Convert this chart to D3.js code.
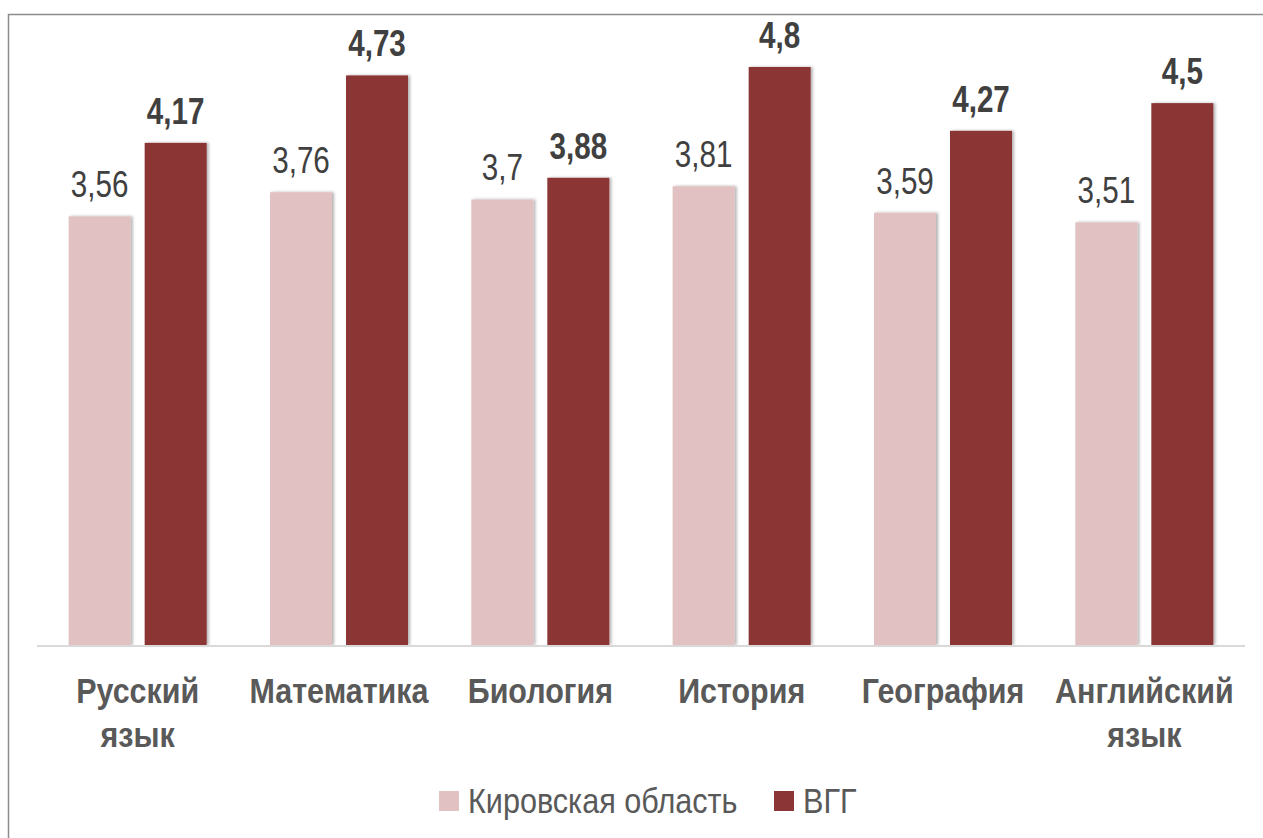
<!DOCTYPE html>
<html>
<head>
<meta charset="utf-8">
<script src="https://cdn.jsdelivr.net/npm/d3@7"></script>
<style>
body { margin: 0; background: #fff; }
svg text { font-family: "Liberation Sans Narrow", "Arial Narrow", "Liberation Sans", sans-serif; }
</style>
</head>
<body>
<div id="chart"></div>
<script>
var subjects = [["Русский", "язык"], ["Математика"], ["Биология"], ["История"], ["География"], ["Английский", "язык"]];
var kirov = [3.56, 3.76, 3.7, 3.81, 3.59, 3.51];
var vgg = [4.17, 4.73, 3.88, 4.8, 4.27, 4.5];
var seriesNames = ["Кировская область", "ВГГ"];
var colors = ["#e2c1c2", "#8b3536"];

var width = 1263, height = 838;
var left = 37, right = 1245, base = 645;

var svg = d3.select("#chart").append("svg")
	.attr("width", width)
	.attr("height", height);

var defs = svg.append("defs");
var f = defs.append("filter").attr("id", "shadow")
	.attr("x", "-20%").attr("y", "-5%").attr("width", "140%").attr("height", "110%");
f.append("feDropShadow").attr("dx", 2).attr("dy", 0).attr("stdDeviation", 1.5)
	.attr("flood-color", "#000").attr("flood-opacity", 0.3);

// frame
svg.append("rect")
	.attr("x", 8.5).attr("y", 14.5)
	.attr("width", 1280).attr("height", 900)
	.attr("fill", "none").attr("stroke", "#8c8c8c").attr("stroke-width", 1.5);

var x = d3.scaleBand()
	.domain(d3.range(subjects.length))
	.range([left, right]);

var y = d3.scaleLinear()
	.domain([0, 4.8])
	.range([base, 67]);

var barW = 62, gap = 14;
var groupW = barW * 2 + gap;

// no narrow font installed, so squeeze Liberation Sans horizontally
function at(px, py, k) {
	return "translate(" + px + "," + py + ") scale(" + k + ",1)";
}

var groups = svg.selectAll(".grp")
	.data(d3.range(subjects.length))
	.enter().append("g")
	.attr("class", "grp")
	.attr("transform", function(i) { return "translate(" + (x(i) + x.bandwidth() / 2 - groupW / 2) + ",0)"; });

groups.append("rect")
	.attr("x", 0)
	.attr("y", function(i) { return y(kirov[i]); })
	.attr("width", barW)
	.attr("height", function(i) { return base - y(kirov[i]); })
	.attr("fill", colors[0])
	.attr("filter", "url(#shadow)");

groups.append("rect")
	.attr("x", barW + gap)
	.attr("y", function(i) { return y(vgg[i]); })
	.attr("width", barW)
	.attr("height", function(i) { return base - y(vgg[i]); })
	.attr("fill", colors[1])
	.attr("filter", "url(#shadow)");

var fmt = function(v) { return String(v).replace(".", ","); };

groups.append("text")
	.attr("transform", function(i) { return at(barW / 2, y(kirov[i]) - 19, 0.8); })
	.attr("text-anchor", "middle")
	.attr("font-size", 37)
	.attr("fill", "#404040")
	.text(function(i) { return fmt(kirov[i]); });

groups.append("text")
	.attr("transform", function(i) { return at(barW + gap + barW / 2, y(vgg[i]) - 19, 0.8); })
	.attr("text-anchor", "middle")
	.attr("font-size", 37)
	.attr("font-weight", "bold")
	.attr("fill", "#404040")
	.text(function(i) { return fmt(vgg[i]); });

// baseline
svg.append("line")
	.attr("x1", left).attr("x2", right)
	.attr("y1", base + 1).attr("y2", base + 1)
	.attr("stroke", "#d9d9d9").attr("stroke-width", 2);

// category labels, one text per line
var catLines = [];
subjects.forEach(function(lines, i) {
	lines.forEach(function(s, j) { catLines.push({s: s, i: i, j: j}); });
});

svg.selectAll(".cat")
	.data(catLines)
	.enter().append("text")
	.attr("class", "cat")
	.attr("transform", function(d) { return at(x(d.i) + x.bandwidth() / 2, 703 + d.j * 44, 0.87); })
	.attr("text-anchor", "middle")
	.attr("font-size", 35)
	.attr("font-weight", "bold")
	.attr("fill", "#595959")
	.text(function(d) { return d.s; });

// legend
var legX = [439, 774];
var leg = svg.selectAll(".leg")
	.data(seriesNames)
	.enter().append("g")
	.attr("class", "leg")
	.attr("transform", function(d, i) { return "translate(" + legX[i] + ",791)"; });

leg.append("rect")
	.attr("width", 20).attr("height", 20)
	.attr("fill", function(d, i) { return colors[i]; });

leg.append("text")
	.attr("transform", at(29, 22, 0.85))
	.attr("font-size", 36)
	.attr("fill", "#595959")
	.text(function(d) { return d; });
</script>
</body>
</html>
